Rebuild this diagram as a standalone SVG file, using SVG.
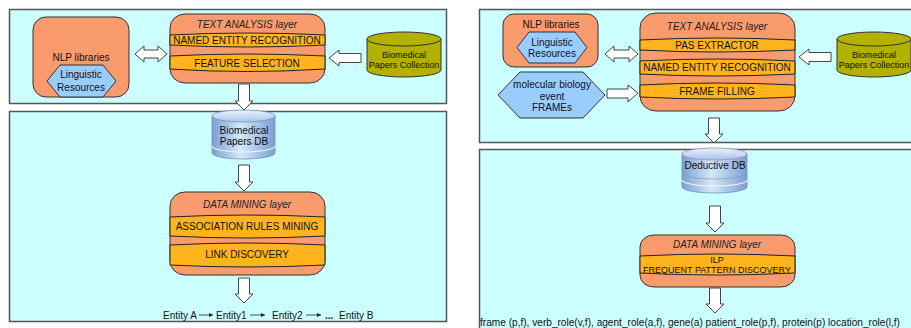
<svg xmlns="http://www.w3.org/2000/svg" width="911" height="328" viewBox="0 0 911 328">
<defs>
<style>
.panel{fill:#ccffff;stroke:#555;stroke-width:1.5}
.salmon{fill:#fa9b6e;stroke:#333;stroke-width:1}
.band{fill:#ffb41e;stroke:#222;stroke-width:1}
.hex{fill:#99ccff;stroke:#333;stroke-width:1}
.olive{fill:#b4b000;stroke:#333;stroke-width:1}
.blk{fill:#fff;stroke:#444;stroke-width:1}
.t{font-family:"Liberation Sans",Arial,sans-serif;font-size:10px;fill:#111;text-anchor:middle}
.ti{font-family:"Liberation Sans",Arial,sans-serif;font-size:10px;font-style:italic;fill:#222;text-anchor:middle}
.ts{font-family:"Liberation Sans",Arial,sans-serif;font-size:9px;fill:#111;text-anchor:middle}
.tl{font-family:"Liberation Sans",Arial,sans-serif;font-size:10px;fill:#111}
.thin{stroke:#222;stroke-width:0.8;fill:none}
</style>
<linearGradient id="db" x1="0" y1="0" x2="1" y2="0">
<stop offset="0" stop-color="#7b9ed2"/>
<stop offset="0.45" stop-color="#d6e8f8"/>
<stop offset="1" stop-color="#7b9ed2"/>
</linearGradient>
<linearGradient id="dbtop" x1="0" y1="0" x2="0" y2="1">
<stop offset="0" stop-color="#e8f2fc"/>
<stop offset="1" stop-color="#a9c4e8"/>
</linearGradient>
<marker id="sa" viewBox="0 0 6 6" refX="6" refY="3" markerWidth="5" markerHeight="5" orient="auto">
<path d="M0,0 L6,3 L0,6 Z" fill="#222"/>
</marker>
</defs>

<g id="panels">
<rect class="panel" x="9.5" y="9.5" width="437" height="94"/>
<rect class="panel" x="9.5" y="111.5" width="437" height="210"/>
<rect class="panel" x="479.5" y="9.5" width="440" height="133"/>
<rect class="panel" x="479.5" y="149.5" width="440" height="190"/>
</g>

<!-- LEFT DIAGRAM -->
<g id="L-nlp">
<rect class="salmon" x="33" y="17" width="96" height="80" rx="13"/>
<text class="t" x="81" y="61">NLP libraries</text>
</g>
<g id="L-ling">
<polygon class="hex" points="47,81 60,65 103,65 116,81 103,97 60,97"/>
<text class="t" x="81" y="78">Linguistic</text>
<text class="t" x="81" y="91">Resources</text>
</g>
<g id="L-text">
<rect class="salmon" x="170" y="14" width="155" height="69" rx="15" ry="14"/>
<text class="ti" x="247" y="28">TEXT ANALYSIS layer</text>
<path class="band" d="M170,35 Q247,31 325,35 L325,45 Q247,49 170,45 Z"/>
<text class="t" x="247" y="44">NAMED ENTITY RECOGNITION</text>
<path class="band" d="M170,56 Q247,52 325,56 L325,69 Q247,74 170,69 Z"/>
<text class="t" x="247" y="66.5">FEATURE SELECTION</text>
</g>
<g id="L-coll">
<path class="olive" d="M367,39 L367,70 A37,7 0 0 0 441,70 L441,39"/>
<ellipse class="olive" cx="404" cy="39" rx="37" ry="7"/>
<text class="ts" x="404" y="58">Biomedical</text>
<text class="ts" x="404" y="68">Papers Collection</text>
</g>
<g id="L-db">
<path d="M212,116 L212,153 A31.5,6 0 0 0 275,153 L275,116 Z" fill="url(#db)" stroke="#6f8fc0" stroke-width="0.8"/>
<path d="M212,138 A31.5,6 0 0 0 275,138" fill="none" stroke="#7c9fd0" stroke-width="0.8"/>
<path d="M212,146 A31.5,6 0 0 0 275,146" fill="none" stroke="#eef6ff" stroke-width="1.2"/>
<ellipse cx="243.5" cy="116" rx="31.5" ry="6" fill="url(#dbtop)" stroke="#6f8fc0" stroke-width="0.8"/>
<text class="t" x="244" y="133.5">Biomedical</text>
<text class="t" x="244" y="144.5">Papers DB</text>
</g>
<g id="L-dm">
<rect class="salmon" x="170" y="192" width="155" height="83" rx="15" ry="14"/>
<text class="ti" x="247" y="207.5">DATA MINING layer</text>
<path class="band" d="M170,217 Q247,213 325,217 L325,236 Q247,240 170,236 Z"/>
<text class="t" x="247" y="230">ASSOCIATION RULES MINING</text>
<path class="band" d="M170,245 Q247,241 325,245 L325,265 Q247,269 170,265 Z"/>
<text class="t" x="247" y="258">LINK DISCOVERY</text>
</g>
<g id="L-out">
<text class="tl" x="163" y="319">Entity A</text>
<text class="tl" x="216" y="319">Entity1</text>
<text class="tl" x="272" y="319">Entity2</text>
<text class="tl" x="325" y="319" font-weight="bold">...</text>
<text class="tl" x="339" y="319">Entity B</text>
</g>

<!-- RIGHT DIAGRAM -->
<g id="R-nlp">
<rect class="salmon" x="503" y="14" width="95" height="53" rx="11"/>
<text class="t" x="551" y="28">NLP libraries</text>
</g>
<g id="R-ling">
<polygon class="hex" points="517,47.5 529,32 575,32 587,47.5 575,63 529,63"/>
<text class="t" x="552" y="45.5">Linguistic</text>
<text class="t" x="552" y="56.5">Resources</text>
</g>
<g id="R-frames">
<polygon class="hex" points="498,95 520,72 583,72 605,95 583,118 520,118"/>
<text class="t" x="552" y="88">molecular biology</text>
<text class="t" x="552" y="99.5">event</text>
<text class="t" x="552" y="111">FRAMEs</text>
</g>
<g id="R-text">
<rect class="salmon" x="640" y="13" width="155" height="98" rx="16" ry="15"/>
<text class="ti" x="717" y="29.5">TEXT ANALYSIS layer</text>
<path class="band" d="M640,40 Q717,36 795,40 L795,50 Q717,54 640,50 Z"/>
<text class="t" x="717" y="48.5">PAS EXTRACTOR</text>
<path class="band" d="M640,61 Q717,57 795,61 L795,74 Q717,78 640,74 Z"/>
<text class="t" x="717" y="71">NAMED ENTITY RECOGNITION</text>
<path class="band" d="M640,85 Q717,81 795,85 L795,97 Q717,101 640,97 Z"/>
<text class="t" x="717" y="94.5">FRAME FILLING</text>
</g>
<g id="R-coll">
<path class="olive" d="M837,39 L837,70 A37,7 0 0 0 911,70 L911,39"/>
<ellipse class="olive" cx="874" cy="39" rx="37" ry="7"/>
<text class="ts" x="874" y="58">Biomedical</text>
<text class="ts" x="874" y="68">Papers Collection</text>
</g>
<g id="R-db">
<path d="M682,154 L682,187 A32.5,6 0 0 0 747,187 L747,154 Z" fill="url(#db)" stroke="#6f8fc0" stroke-width="0.8"/>
<path d="M682,173 A32.5,6 0 0 0 747,173" fill="none" stroke="#7c9fd0" stroke-width="0.8"/>
<path d="M682,180 A32.5,6 0 0 0 747,180" fill="none" stroke="#eef6ff" stroke-width="1.2"/>
<ellipse cx="714.5" cy="154" rx="32.5" ry="6" fill="url(#dbtop)" stroke="#a77fc8" stroke-width="0.8"/>
<text class="t" x="715" y="168.5">Deductive DB</text>
</g>
<g id="R-dm">
<rect class="salmon" x="640" y="235" width="155" height="52" rx="14" ry="12"/>
<text class="ti" x="717" y="247.5">DATA MINING layer</text>
<path class="band" d="M640,256 Q717,252 795,256 L795,273 Q717,277 640,273 Z"/>
<text class="ts" x="717" y="262.5">ILP</text>
<text class="ts" x="717" y="272.5">FREQUENT PATTERN DISCOVERY</text>
</g>
<g id="R-out">
<text class="tl" x="480" y="326" textLength="420" lengthAdjust="spacingAndGlyphs">frame (p,f), verb_role(v,f), agent_role(a,f), gene(a) patient_role(p,f), protein(p) location_role(l,f)</text>
</g>

<g id="connectors">
<!-- left diagram -->
<polygon class="blk" points="135,54 144,46 144,50 158,50 158,46 167,54 158,62 158,58 144,58 144,62"/>
<polygon class="blk" points="329,58 339,50 339,53.5 361,53.5 361,62.5 339,62.5 339,66"/>
<polygon class="blk" points="238.5,84 249.5,84 249.5,101 253,101 244,110 235,101 238.5,101"/>
<polygon class="blk" points="238.5,165 249.5,165 249.5,182 253,182 244,191 235,182 238.5,182"/>
<polygon class="blk" points="238.5,278 249.5,278 249.5,294 253,294 244,303 235,294 238.5,294"/>
<line class="thin" x1="199" y1="315" x2="213" y2="315" marker-end="url(#sa)"/>
<line class="thin" x1="250" y1="315" x2="265" y2="315" marker-end="url(#sa)"/>
<line class="thin" x1="306" y1="315" x2="321" y2="315" marker-end="url(#sa)"/>
<!-- right diagram -->
<polygon class="blk" points="605,54 614,46 614,50 629,50 629,46 638,54 629,62 629,58 614,58 614,62"/>
<polygon class="blk" points="638,93 628,85 628,89 607,89 607,98 628,98 628,102"/>
<polygon class="blk" points="799,57 809,49 809,52.5 831,52.5 831,61.5 809,61.5 809,65"/>
<polygon class="blk" points="708.5,118 719.5,118 719.5,134 723,134 714,143 705,134 708.5,134"/>
<polygon class="blk" points="709.5,206 720.5,206 720.5,223 724,223 715,232 706,223 709.5,223"/>
<polygon class="blk" points="709.5,288 720.5,288 720.5,304 724,304 715,313 706,304 709.5,304"/>
</g>
</svg>
